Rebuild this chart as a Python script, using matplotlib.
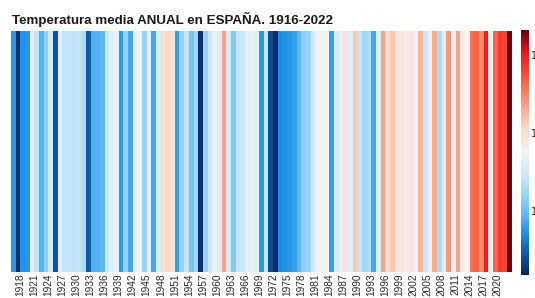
import numpy as np
import matplotlib
matplotlib.use("Agg")
import matplotlib.pyplot as plt
from matplotlib.colors import LinearSegmentedColormap, Normalize
from matplotlib.cm import ScalarMappable

# ---- data ----
years = list(range(1916, 2023))
temps = [
    12.75, 12.25, 12.72, 12.75,
    13.62, 13.40, 12.92, 13.15, 13.50, 12.42, 13.65, 13.40, 13.42, 13.38,
    13.42, 13.30, 12.45, 12.90, 12.92, 12.95, 13.45, 13.62, 13.66, 12.78,
    13.20, 12.85, 13.70, 13.72, 13.20, 13.68, 12.85, 13.55, 14.00, 14.05,
    14.00, 12.80, 13.20, 13.40, 13.05, 13.25, 12.25, 13.20, 13.45, 13.70,
    13.60, 14.35, 13.55, 13.10, 13.40, 13.45, 13.65, 13.70, 13.65, 12.75,
    13.40, 12.38, 12.22, 12.70, 12.72, 12.75, 12.80, 12.95, 13.15, 13.20,
    13.50, 13.75, 13.78, 13.72, 12.80, 13.55, 13.70, 13.95, 13.60, 14.15,
    13.40, 13.25, 13.30, 12.85, 13.60, 14.35, 14.00, 14.15, 13.92, 13.90,
    13.88, 13.92, 13.80, 14.25, 13.45, 13.72, 14.30, 13.30, 13.65, 14.40,
    13.70, 14.35, 13.85, 13.75, 14.60, 14.65, 14.45, 15.00, 13.85, 14.65,
    14.85, 14.80, 15.30,
]
tick_years = years[2::3]
cbar_ticks = [13, 14, 15]
cbar_labels = ["13", "14", "15"]
title = "Temperatura media ANUAL en ESPAÑA. 1916-2022"

# ---- style ----
vmin, vmax = 12.18, 15.32
nodes = [
    (12.18, "#08275a"),
    (12.40, "#0b4f9a"),
    (12.70, "#1a8fe6"),
    (13.00, "#6cc0f4"),
    (13.40, "#c2e5f8"),
    (13.77, "#f4f4f4"),
    (14.10, "#fcd2c2"),
    (14.55, "#f87a58"),
    (15.00, "#f51a18"),
    (15.32, "#670012"),
]
cmap = LinearSegmentedColormap.from_list(
    "stripes", [((v - vmin) / (vmax - vmin), c) for v, c in nodes])
norm = Normalize(vmin=vmin, vmax=vmax)

W, H = 535, 298
fig = plt.figure(figsize=(W / 100, H / 100), dpi=100)

ax = fig.add_axes([11 / W, 1 - 271.5 / H, (511.8 - 11) / W, (271.5 - 31) / H])
edges = np.arange(years[0], years[-1] + 2)
ax.pcolormesh(edges, [0, 1], np.array(temps)[np.newaxis, :], cmap=cmap, norm=norm)
ax.set_xlim(edges[0], edges[-1])
ax.set_ylim(0, 1)
ax.set_yticks([])
ax.set_xticks(tick_years)
ax.set_xticklabels([str(y) for y in tick_years], rotation=90,
                   fontsize=7.3, color="#2a2a2a", family="Liberation Sans")
ax.tick_params(axis="x", length=0, pad=1.5)
for s in ax.spines.values():
    s.set_visible(False)

cax = fig.add_axes([520.5 / W, 1 - 275 / H, 8.5 / W, 245 / H])
cb = fig.colorbar(ScalarMappable(norm=norm, cmap=cmap), cax=cax)
cb.outline.set_visible(False)
cb.set_ticks(cbar_ticks)
cb.set_ticklabels(cbar_labels)
cax.tick_params(length=0, pad=1.2, labelsize=7, labelcolor="#2a2a2a")

fig.text(12 / W, 1 - 24 / H, title, fontsize=9.6, fontweight="bold",
         family="Liberation Sans", color="#1a1a1a", ha="left", va="baseline")

fig.savefig("out.png", dpi=100)
